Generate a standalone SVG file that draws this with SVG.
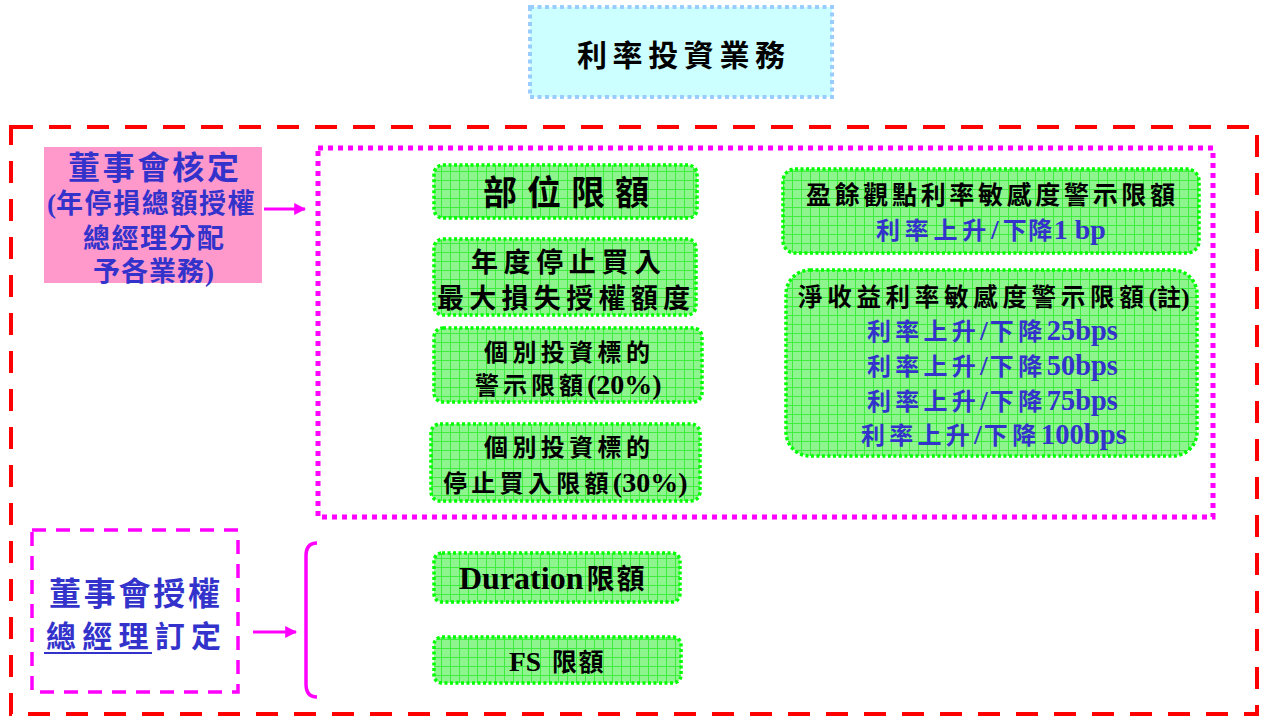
<svg xmlns="http://www.w3.org/2000/svg" width="1262" height="717" viewBox="0 0 1262 717">
<defs>
<pattern id="grid" patternUnits="userSpaceOnUse" width="9" height="9">
<rect width="9" height="9" fill="#8ef58e"/>
<path d="M0 0.5H9M0.5 0V9" stroke="#3fec3f" stroke-width="1"/>
</pattern>
<marker id="arr" viewBox="0 0 10 10" refX="9" refY="5" markerWidth="4" markerHeight="4" orient="auto" markerUnits="strokeWidth">
<path d="M0 0L10 5L0 10z" fill="#ff00ff"/>
</marker>
<style>
.g{fill:url(#grid);stroke:#00ff00;stroke-width:3.5;stroke-dasharray:3 2.5}
.t{font-family:"Liberation Serif","Noto Sans CJK TC",serif;font-weight:bold;fill:#000}
.b{fill:#3333cc}
</style>
</defs>
<rect x="0" y="0" width="1262" height="717" fill="#fff"/>

<g id="title">
<rect x="530" y="7" width="302" height="90" fill="#ccffff" stroke="#99ccff" stroke-width="4" stroke-dasharray="4 3.5"/>
<text class="t" x="577" y="66" font-size="30" textLength="208" lengthAdjust="spacing">利率投資業務</text>
</g>

<g id="outer">
<rect x="11" y="127" width="1246" height="587" fill="none" stroke="#ff0000" stroke-width="4" stroke-dasharray="22 16"/>
</g>

<g id="board">
<rect x="44" y="147" width="218" height="136" fill="#ff99cc"/>
<text class="t b" x="68" y="179" font-size="32" textLength="171" lengthAdjust="spacing">董事會核定</text>
<text class="t b" x="47" y="213"><tspan font-size="27">(</tspan><tspan font-size="27" letter-spacing="1.6">年停損總額授權</tspan></text>
<text class="t b" x="83" y="248" font-size="27" textLength="141" lengthAdjust="spacing">總經理分配</text>
<text class="t b" x="93" y="281"><tspan font-size="27" letter-spacing="1">予各業務</tspan><tspan font-size="27">)</tspan></text>
</g>

<g id="scope">
<rect x="318" y="148" width="895" height="369" fill="none" stroke="#ff00ff" stroke-width="5" stroke-dasharray="5 5"/>
</g>

<g id="n1">
<rect class="g" x="434" y="165" width="263" height="53" rx="9"/>
<text class="t" x="483" y="205" font-size="34" textLength="166" lengthAdjust="spacing">部位限額</text>
</g>
<g id="n2">
<rect class="g" x="434" y="239" width="262" height="76" rx="9"/>
<text class="t" x="471" y="272" font-size="27" textLength="190" lengthAdjust="spacing">年度停止買入</text>
<text class="t" x="437" y="308" font-size="27" textLength="253" lengthAdjust="spacing">最大損失授權額度</text>
</g>
<g id="n3">
<rect class="g" x="434" y="328" width="268" height="74" rx="9"/>
<text class="t" x="484" y="361" font-size="24" textLength="166" lengthAdjust="spacing">個別投資標的</text>
<text class="t" x="475" y="394"><tspan font-size="24" letter-spacing="4">警示限額</tspan><tspan font-size="28">(20%)</tspan></text>
</g>
<g id="n4">
<rect class="g" x="431" y="424" width="269" height="77" rx="9"/>
<text class="t" x="484" y="456" font-size="24" textLength="166" lengthAdjust="spacing">個別投資標的</text>
<text class="t" x="443" y="492"><tspan font-size="24" letter-spacing="4.3">停止買入限額</tspan><tspan font-size="28">(30%)</tspan></text>
</g>
<g id="n5">
<rect class="g" x="783" y="169" width="416" height="84" rx="12"/>
<text class="t" x="806" y="204" font-size="25" textLength="369" lengthAdjust="spacing">盈餘觀點利率敏感度警示限額</text>
<text class="t b" x="876" y="239"><tspan font-size="24" letter-spacing="4.75">利率上升</tspan><tspan font-size="28" letter-spacing="4">/</tspan><tspan font-size="24" letter-spacing="1.5">下降</tspan><tspan font-size="28">1 bp</tspan></text>
</g>
<g id="n6">
<rect class="g" x="786" y="270" width="411" height="186" rx="24"/>
<text class="t" x="798" y="306"><tspan font-size="24.5" letter-spacing="4.7">淨收益利率敏感度警示限額</tspan><tspan font-size="26">(</tspan><tspan font-size="24">註</tspan><tspan font-size="26">)</tspan></text>
<text class="t b" x="867" y="340"><tspan font-size="24" letter-spacing="4.25">利率上升</tspan><tspan font-size="28" letter-spacing="2">/</tspan><tspan font-size="24" letter-spacing="4.5">下降</tspan><tspan font-size="28.4">25bps</tspan></text>
<text class="t b" x="867" y="375"><tspan font-size="24" letter-spacing="4.25">利率上升</tspan><tspan font-size="28" letter-spacing="2">/</tspan><tspan font-size="24" letter-spacing="4.5">下降</tspan><tspan font-size="28.4">50bps</tspan></text>
<text class="t b" x="867" y="410"><tspan font-size="24" letter-spacing="4.25">利率上升</tspan><tspan font-size="28" letter-spacing="2">/</tspan><tspan font-size="24" letter-spacing="4.5">下降</tspan><tspan font-size="28.4">75bps</tspan></text>
<text class="t b" x="861" y="444"><tspan font-size="24" letter-spacing="4.25">利率上升</tspan><tspan font-size="28" letter-spacing="2">/</tspan><tspan font-size="24" letter-spacing="4.5">下降</tspan><tspan font-size="28.7">100bps</tspan></text>
</g>
<g id="n7">
<rect class="g" x="434" y="553" width="246" height="49" rx="8"/>
<text class="t" x="459" y="589"><tspan font-size="32">Duration</tspan><tspan font-size="28" letter-spacing="2" dx="3">限額</tspan></text>
</g>
<g id="n8">
<rect class="g" x="434" y="637" width="247" height="46" rx="8"/>
<text class="t" x="509" y="671"><tspan font-size="27.5">FS </tspan><tspan font-size="25" letter-spacing="1.5" dx="4">限額</tspan></text>
</g>

<g id="delegate">
<rect x="32" y="530" width="206" height="162" fill="none" stroke="#ff00ff" stroke-width="3.5" stroke-dasharray="14 10"/>
<text class="t b" x="49" y="605" font-size="32" textLength="171" lengthAdjust="spacing">董事會授權</text>
<text class="t b" x="46" y="647" font-size="30" textLength="175" lengthAdjust="spacing">總經理訂定</text>
<line x1="44" y1="653" x2="152" y2="653" stroke="#3333cc" stroke-width="2"/>
</g>

<g id="connectors" fill="none" stroke="#ff00ff" stroke-width="3">
<line x1="264" y1="209" x2="305" y2="209" marker-end="url(#arr)"/>
<line x1="253" y1="632" x2="296" y2="632" marker-end="url(#arr)"/>
<path d="M317 543Q306 543 306 556V684Q306 697 317 697" stroke-width="3.5"/>
</g>
</svg>
